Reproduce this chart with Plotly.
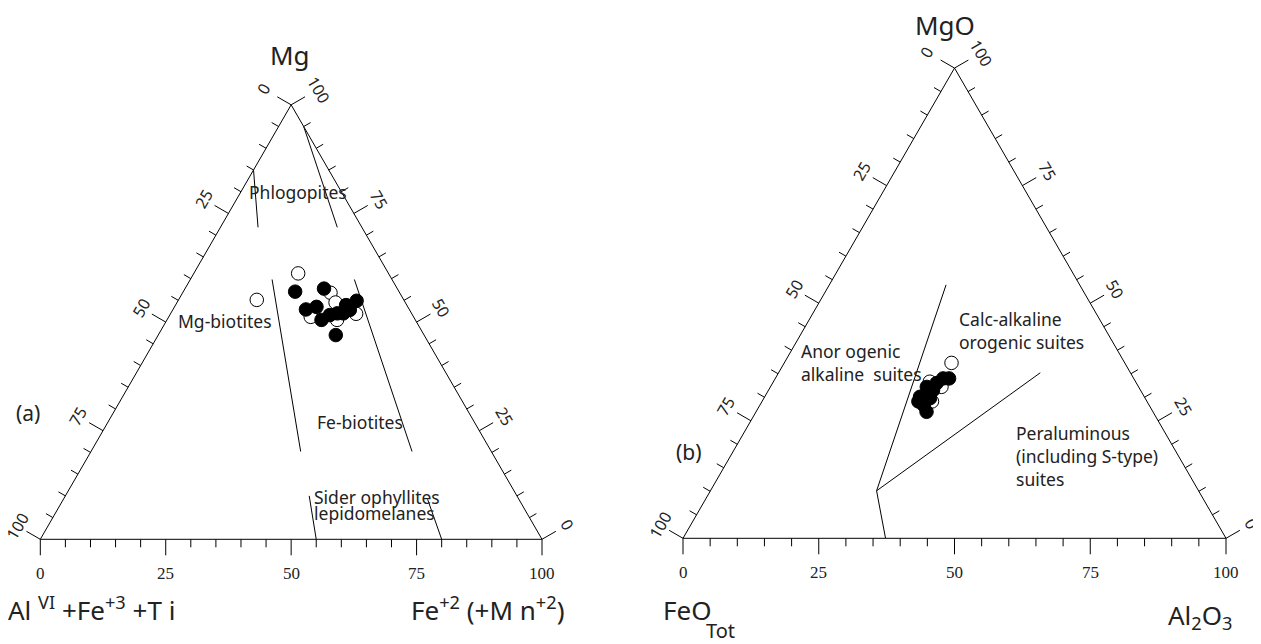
import math
import plotly.graph_objects as go

OFF = 8                      # browser body margin
W, H = 1261 - OFF, 644 - OFF # figure size in px
SQ = math.sqrt(3) / 2

# ---------------- Diagram (a): biotite classification ----------------
# ternary components in %: Mg (apex), AlVI+Fe3+Ti (bottom-left), Fe2(+Mn2) (bottom-right)
a_open_mg   = [61.2, 55.1, 56.8, 54.5, 51.2, 50.5, 51.9]
a_open_al   = [18.0, 29.3, 13.8, 13.9, 20.5, 15.6, 11.1]
a_open_fe   = [20.8, 15.6, 29.5, 31.6, 28.3, 33.9, 37.0]

a_fill_mg   = [57.0, 57.7, 52.9, 53.5, 50.5, 51.6, 52.0, 53.9, 54.9, 52.0, 47.0, 52.8]
a_fill_al   = [20.7, 14.6, 20.6, 18.2, 18.7, 16.5, 14.8, 12.1, 9.5, 13.6, 17.6, 11.9]
a_fill_fe   = [22.3, 27.7, 26.5, 28.3, 30.8, 31.9, 33.2, 34.0, 35.6, 34.4, 35.4, 35.3]

# field boundaries (start, end) as [Mg, AlVI, Fe2]
a_bounds = [
    ([85.0, 15.0, 0.0], [71.8, 20.7, 7.5]),
    ([95.0, 0.0, 5.0], [71.8, 4.9, 23.3]),
    ([59.8, 23.9, 16.3], [20.2, 38.0, 41.8]),
    ([59.8, 7.5, 32.7], [20.2, 15.8, 64.0]),
    ([10.0, 41.4, 48.6], [0.0, 45.0, 55.0]),
    ([9.2, 18.2, 72.6], [0.0, 20.0, 80.0]),
]

# ---------------- Diagram (b): Abdel-Rahman discrimination ----------------
# components in %: MgO (apex), FeOtot (bottom-left), Al2O3 (bottom-right)
b_open_mg = [37.3, 33.3, 32.2, 29.1]
b_open_fe = [31.9, 37.9, 36.3, 39.6]
b_open_al = [30.8, 28.8, 31.5, 31.3]

b_fill_mg = [34.0, 34.0, 31.5, 33.0, 32.2, 30.1, 29.1, 26.9, 29.8, 28.3]
b_fill_fe = [35.1, 34.0, 38.2, 36.8, 39.0, 41.3, 42.1, 41.7, 39.6, 41.5]
b_fill_al = [30.9, 32.0, 30.3, 30.2, 28.8, 28.6, 28.8, 31.4, 30.6, 30.2]

b_bounds = [
    ([53.9, 24.6, 21.5], [10.1, 59.3, 30.6]),
    ([10.1, 59.3, 30.6], [0.0, 62.7, 37.3]),
    ([10.1, 59.3, 30.6], [35.2, 16.6, 48.2]),
]

# tick labels shown on every edge
major_ticks = [0, 25, 50, 75, 100]
minor_step = 5

# triangle geometry (screen px): bottom-left corner and side length
GEO = {
    "A": dict(blx=40.3 - OFF, bly=539.3 - OFF, side=501.7,
              x0=0, x1=620 - OFF, xa="x", ya="y", tern="ternary"),
    "B": dict(blx=683.0 - OFF, bly=538.3 - OFF, side=543.0,
              x0=620 - OFF, x1=W, xa="x2", ya="y2", tern="ternary2"),
}

fig = go.Figure()


def add_data(g, bounds, omg, obl, obr, fmg, fbl, fbr):
    sub = g["tern"]
    for s, e in bounds:
        fig.add_trace(go.Scatterternary(
            a=[s[0], e[0]], b=[s[1], e[1]], c=[s[2], e[2]], mode="lines",
            line=dict(color="black", width=1), subplot=sub, showlegend=False,
            hoverinfo="skip"))
    fig.add_trace(go.Scatterternary(
        a=omg, b=obl, c=obr, mode="markers", subplot=sub, showlegend=False,
        marker=dict(size=13.5, color="white", line=dict(color="black", width=1))))
    fig.add_trace(go.Scatterternary(
        a=fmg, b=fbl, c=fbr, mode="markers", subplot=sub, showlegend=False,
        marker=dict(size=13.5, color="black", line=dict(color="black", width=1))))


def add_ticks(g):
    s = g["side"] / 100.0          # px per unit
    tx, ty = [], []
    nl = (-SQ, 0.5)                # outward normals (y up)
    nr = (SQ, 0.5)
    nb = (0.0, -1.0)
    for v in range(0, 101, minor_step):
        ln = (16 if v in major_ticks else 8) / s
        # bottom edge: value v from left to right
        pts = [((v, 0.0), nb)]
        # left edge: label v, 100 at bottom-left, 0 at apex
        A = 100 - v
        pts.append(((A / 2, A * SQ), nl))
        # right edge: label v, 0 at bottom-right, 100 at apex
        pts.append(((100 - v / 2, v * SQ), nr))
        for (px, py), (nx, ny) in pts:
            tx += [px, px + nx * ln, None]
            ty += [py, py + ny * ln, None]
    fig.add_trace(go.Scatter(x=tx, y=ty, mode="lines", xaxis=g["xa"],
                             yaxis=g["ya"], line=dict(color="black", width=1),
                             showlegend=False, hoverinfo="skip"))
    # labels
    for v in major_ticks:
        lab = str(v)
        fig.add_annotation(text=lab, x=v, y=-34 / s, xref=g["xa"], yref=g["ya"],
                           showarrow=False,
                           font=dict(family="Liberation Serif", size=17, color="#222"))
        A = 100 - v
        dl = {0: 32, 100: 26}.get(v, 28.5) / s
        fig.add_annotation(text=lab, x=A / 2 + nl[0] * dl, y=A * SQ + nl[1] * dl,
                           xref=g["xa"], yref=g["ya"], showarrow=False,
                           textangle=-60,
                           font=dict(family="Noto Sans", size=16, color="#222"))
        dr = {100: 31, 0: 29.5}.get(v, 28.5) / s
        fig.add_annotation(text=lab, x=100 - v / 2 + nr[0] * dr,
                           y=v * SQ + nr[1] * dr,
                           xref=g["xa"], yref=g["ya"], showarrow=False,
                           textangle=60,
                           font=dict(family="Noto Sans", size=16, color="#222"))


add_data(GEO["A"], a_bounds, a_open_mg, a_open_al, a_open_fe,
         a_fill_mg, a_fill_al, a_fill_fe)
add_data(GEO["B"], b_bounds, b_open_mg, b_open_fe, b_open_al,
         b_fill_mg, b_fill_fe, b_fill_al)
add_ticks(GEO["A"])
add_ticks(GEO["B"])

lay = dict(width=W, height=H, margin=dict(l=0, r=0, t=0, b=0),
           paper_bgcolor="white", plot_bgcolor="rgba(0,0,0,0)")

tern_ax = dict(showgrid=False, showline=True, linecolor="black", linewidth=1,
               ticks="", showticklabels=False, title=dict(text=""))

for key, g in GEO.items():
    s = g["side"] / 100.0
    # ternary domain = bounding box of the equilateral triangle
    top = g["bly"] - g["side"] * SQ
    lay[g["tern"]] = dict(
        domain=dict(x=[g["blx"] / W, (g["blx"] + g["side"]) / W],
                    y=[1 - g["bly"] / H, 1 - top / H]),
        sum=100, bgcolor="rgba(0,0,0,0)",
        aaxis=tern_ax, baxis=tern_ax, caxis=tern_ax)
    xname = "xaxis" if g["xa"] == "x" else "xaxis2"
    yname = "yaxis" if g["ya"] == "y" else "yaxis2"
    lay[xname] = dict(domain=[g["x0"] / W, g["x1"] / W],
                      range=[(g["x0"] - g["blx"]) / s, (g["x1"] - g["blx"]) / s],
                      visible=False, fixedrange=True, anchor=g["ya"])
    lay[yname] = dict(domain=[0, 1], anchor=g["xa"],
                      range=[-(H - g["bly"]) / s, g["bly"] / s],
                      visible=False, fixedrange=True)

fig.update_layout(**lay)


def ann(text, x, y, size=17.5, family="Noto Sans", xanchor="center"):
    fig.add_annotation(text=text, x=(x - OFF) / W, y=1 - (y - OFF) / H,
                       xref="paper", yref="paper", showarrow=False,
                       xanchor=xanchor, yanchor="middle", align="left",
                       font=dict(family=family, size=size, color="#222"))


# axis titles
ann("Mg", 290, 55, 26)
ann("Al <sup>VI</sup> +Fe<sup>+3</sup> +T i", 6, 609, 26, xanchor="left")
ann("Fe<sup>+2</sup> (+M n<sup>+2</sup>)", 409, 609, 26, xanchor="left")
ann("MgO", 945, 25, 26)
ann("FeO", 661, 610, 26, xanchor="left")
ann("Tot", 704, 630, 20, xanchor="left")
ann("Al<sub>2</sub>O<sub>3</sub>", 1166, 616, 26, xanchor="left")
ann("(a)", 28, 413, 21)
ann("(b)", 689, 452, 21)

# field names
ann("Phlogopites", 298, 192)
ann("Mg-biotites", 225, 321)
ann("Fe-biotites", 360, 422)
ann("Sider ophyllites", 312, 497, xanchor="left")
ann("lepidomelanes", 312, 513, xanchor="left")
ann("Anor ogenic<br>alkaline  suites", 799, 362, xanchor="left")
ann("Calc-alkaline<br>orogenic suites", 957, 330, xanchor="left")
ann("Peraluminous<br>(including S-type)<br>suites", 1014, 456, xanchor="left")

fig.write_html("out.html")
